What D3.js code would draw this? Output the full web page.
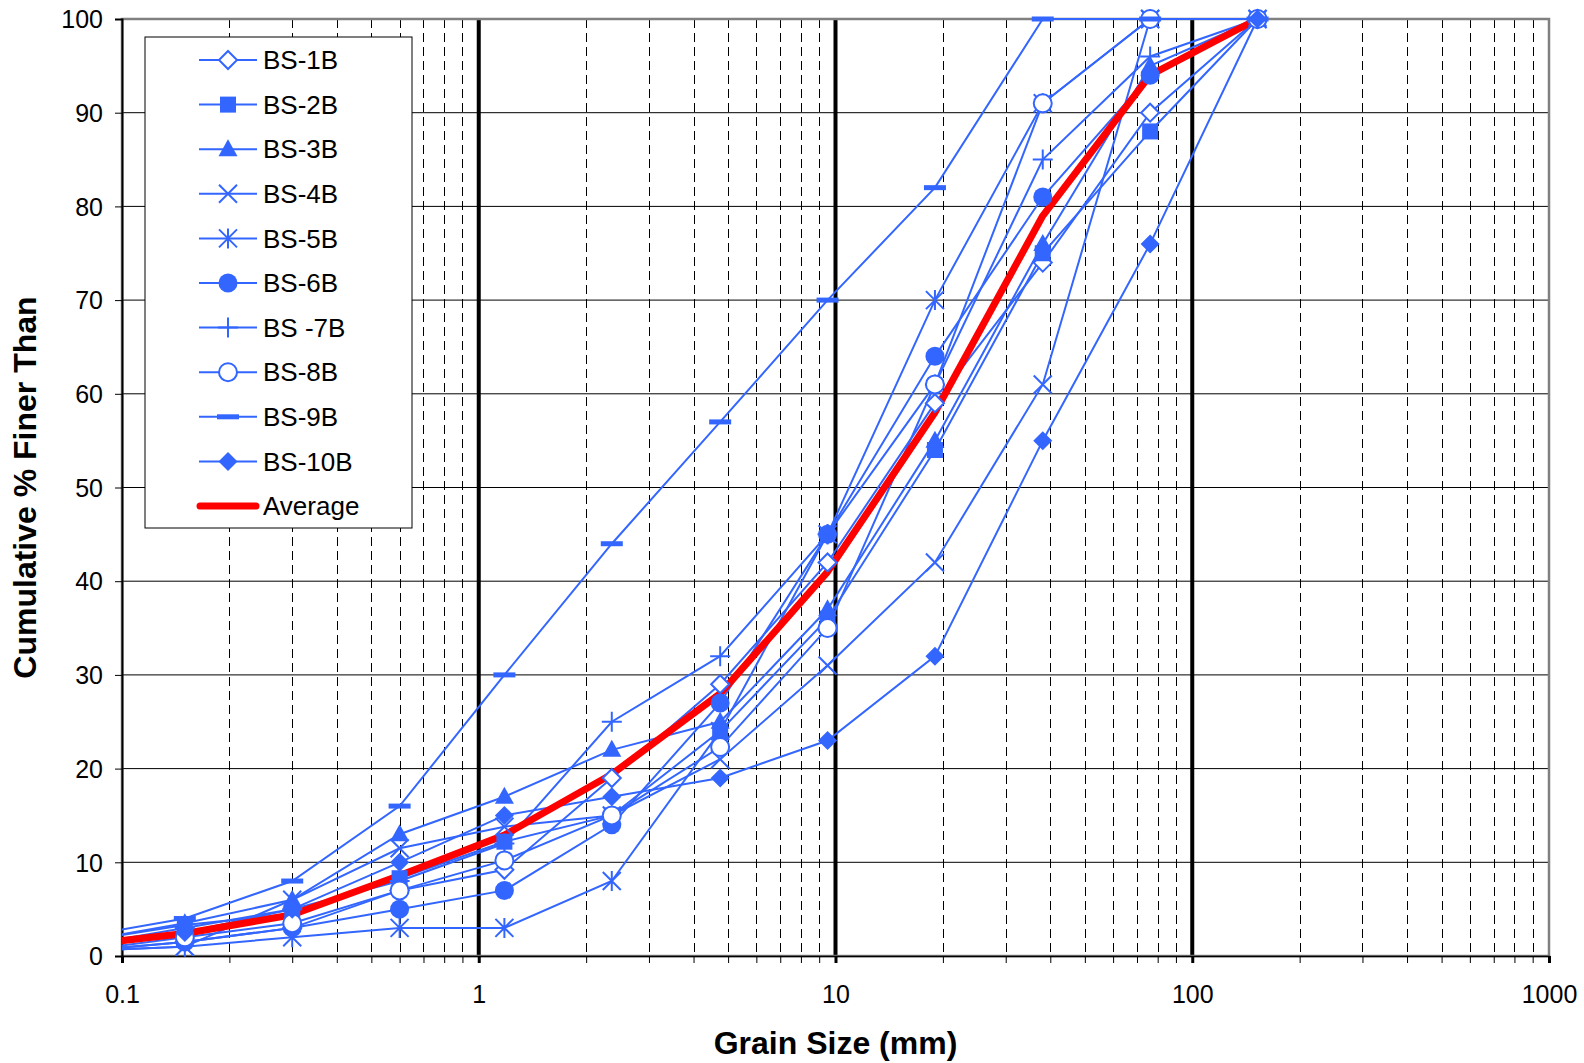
<!DOCTYPE html>
<html>
<head>
<meta charset="utf-8">
<script src="https://cdn.jsdelivr.net/npm/d3@7"></script>
<style>
  html, body { margin: 0; padding: 0; background: #fff; }
  svg { display: block; font-family: "Liberation Sans", Arial, sans-serif; }
</style>
</head>
<body>
<svg id="chart" width="1584" height="1063"></svg>
<script>
// Sieve openings (mm) and cumulative % passing for each boring sample
const sieveSizes = [0.075, 0.15, 0.3, 0.6, 1.18, 2.36, 4.75, 9.5, 19, 38.1, 76.2, 152.4];

const bs1B  = [0.5, 1.5, 3, 7, 9.2, 19, 29, 42, 59, 74, 90, 100];
const bs2B  = [1.5, 3.3, 4.5, 8.3, 12.2, 15, 24, 36, 54, 75, 88, 100];
const bs3B  = [1.5, 3.5, 6, 13, 17, 22, 25, 37, 55, 76, 95, 100];
const bs4B  = [0.5, 1, 6, 11.5, 13.8, 15, 21, 31, 42, 61, 100, 100];
const bs5B  = [0.5, 1, 2, 3, 3, 8, 24, 45, 70, 91, 100, 100];
const bs6B  = [0.5, 1.5, 3, 5, 7, 14, 27, 45, 64, 81, 94, 100];
const bs7B  = [1, 3, 5, 8, 12, 25, 32, 45, 61, 85, 96, 100];
const bs8B  = [0.5, 2, 3.5, 7, 10.2, 15, 22.3, 35, 61, 91, 100, 100];
const bs9B  = [2, 4, 8, 16, 30, 44, 57, 70, 82, 100, 100, 100];
const bs10B = [1, 2.5, 5, 10, 15, 17, 19, 23, 32, 55, 76, 100];
const average = [1.1, 2.4, 4.4, 8.6, 12.9, 19.4, 28, 41, 58, 79, 94, 100];

const sampleNames = ["BS-1B", "BS-2B", "BS-3B", "BS-4B", "BS-5B", "BS-6B", "BS -7B", "BS-8B", "BS-9B", "BS-10B"];
const sampleValues = [bs1B, bs2B, bs3B, bs4B, bs5B, bs6B, bs7B, bs8B, bs9B, bs10B];
const markerKinds = ["diamondOpen", "square", "triangle", "times", "asterisk", "circle", "plus", "circleOpen", "dash", "diamond"];

const xTickLabels = [0.1, 1, 10, 100, 1000];
const yTickValues = [0, 10, 20, 30, 40, 50, 60, 70, 80, 90, 100];

const BLUE = "#3366FF";
const RED = "#FF0000";

const svg = d3.select("#chart");
const plotLeft = 122, plotRight = 1549, plotTop = 19, plotBottom = 956;

const x = d3.scaleLog().domain([0.1, 1000]).range([plotLeft, plotRight]);
const y = d3.scaleLinear().domain([0, 100]).range([plotBottom, plotTop]);

// clip region for plotted data
svg.append("defs").append("clipPath").attr("id", "plotClip")
  .append("rect").attr("x", plotLeft).attr("y", 0).attr("width", plotRight - plotLeft).attr("height", 1063);

// horizontal gridlines
const grid = svg.append("g");
grid.selectAll("line.h").data(yTickValues.filter(v => v > 0 && v < 100)).join("line")
  .attr("x1", plotLeft).attr("x2", plotRight)
  .attr("y1", d => y(d)).attr("y2", d => y(d))
  .attr("stroke", "#000").attr("stroke-width", 1);

// vertical gridlines: dashed minors, heavy decades
const allTicks = x.ticks();
const isDecade = v => Math.abs(Math.log10(v) - Math.round(Math.log10(v))) < 1e-9;
const minorTicks = allTicks.filter(v => !isDecade(v));
const innerDecades = allTicks.filter(v => isDecade(v) && v > 0.1 && v < 1000);

grid.selectAll("line.minor").data(minorTicks).join("line")
  .attr("x1", d => Math.round(x(d)) + 0.5).attr("x2", d => Math.round(x(d)) + 0.5)
  .attr("y1", plotTop).attr("y2", plotBottom)
  .attr("stroke", "#000").attr("stroke-width", 1).attr("stroke-dasharray", "9,5");

grid.selectAll("line.major").data(innerDecades).join("line")
  .attr("x1", d => x(d)).attr("x2", d => x(d))
  .attr("y1", plotTop).attr("y2", plotBottom)
  .attr("stroke", "#000").attr("stroke-width", 4);

// plot frame
svg.append("rect").attr("x", plotLeft).attr("y", plotTop).attr("width", plotRight - plotLeft).attr("height", plotBottom - plotTop)
  .attr("fill", "none").attr("stroke", "#808080").attr("stroke-width", 2.5);

// x axis
const xAxis = d3.axisBottom(x).tickValues(allTicks).tickSize(7)
  .tickFormat(d => xTickLabels.includes(d) ? String(d) : "");
const gx = svg.append("g").attr("transform", `translate(0,${plotBottom})`).call(xAxis);
gx.select(".domain").attr("stroke", "#000").attr("stroke-width", 1.5);
gx.selectAll(".tick line").attr("stroke", "#000")
  .attr("stroke-width", d => isDecade(d) ? 3 : 1);
gx.selectAll(".tick text").attr("font-size", 25).attr("fill", "#000")
  .attr("y", 29).attr("dy", "0.71em");

// y axis
const yAxis = d3.axisLeft(y).tickValues(yTickValues).tickSize(7).tickFormat(d3.format("d"));
const gy = svg.append("g").attr("transform", `translate(${plotLeft},0)`).call(yAxis);
gy.select(".domain").attr("stroke", "#000").attr("stroke-width", 2);
gy.selectAll(".tick line").attr("stroke", "#000").attr("stroke-width", 1);
gy.selectAll(".tick text").attr("font-size", 25).attr("fill", "#000").attr("x", -19).attr("dy", "0.35em");

// axis titles
svg.append("text").attr("x", (plotLeft + plotRight) / 2).attr("y", 1054)
  .attr("text-anchor", "middle").attr("font-size", 32).attr("font-weight", "bold")
  .text("Grain Size (mm)");
svg.append("text").attr("transform", `translate(36,${(plotTop + plotBottom) / 2}) rotate(-90)`)
  .attr("text-anchor", "middle").attr("font-size", 32).attr("font-weight", "bold")
  .text("Cumulative % Finer Than");

// marker drawing
function drawMarker(g, kind) {
  switch (kind) {
    case "diamondOpen":
      g.append("path").attr("d", "M0,-9L9,0L0,9L-9,0Z").attr("fill", "#fff").attr("stroke", BLUE).attr("stroke-width", 2); break;
    case "diamond":
      g.append("path").attr("d", "M0,-9.5L9.5,0L0,9.5L-9.5,0Z").attr("fill", BLUE); break;
    case "square":
      g.append("rect").attr("x", -8).attr("y", -8).attr("width", 16).attr("height", 16).attr("fill", BLUE); break;
    case "triangle":
      g.append("path").attr("d", "M0,-10L9.5,7L-9.5,7Z").attr("fill", BLUE); break;
    case "times":
      g.append("path").attr("d", "M-9,-9L9,9M-9,9L9,-9").attr("stroke", BLUE).attr("stroke-width", 2).attr("fill", "none"); break;
    case "asterisk":
      g.append("path").attr("d", "M-9,-9L9,9M-9,9L9,-9M0,-10L0,10").attr("stroke", BLUE).attr("stroke-width", 2).attr("fill", "none"); break;
    case "circle":
      g.append("circle").attr("r", 9.5).attr("fill", BLUE); break;
    case "circleOpen":
      g.append("circle").attr("r", 9).attr("fill", "#fff").attr("stroke", BLUE).attr("stroke-width", 2); break;
    case "plus":
      g.append("path").attr("d", "M-10,0L10,0M0,-10L0,10").attr("stroke", BLUE).attr("stroke-width", 2).attr("fill", "none"); break;
    case "dash":
      g.append("rect").attr("x", -11).attr("y", -2.5).attr("width", 22).attr("height", 5).attr("fill", BLUE); break;
  }
}

const line = d3.line().x(d => x(d[0])).y(d => y(d[1]));
const dataLayer = svg.append("g").attr("clip-path", "url(#plotClip)");

// all series lines first, average on top of them
sampleValues.forEach(vals => {
  dataLayer.append("path").datum(sieveSizes.map((s, i) => [s, vals[i]]))
    .attr("d", line).attr("fill", "none").attr("stroke", BLUE).attr("stroke-width", 2);
});
dataLayer.append("path").datum(sieveSizes.map((s, i) => [s, average[i]]))
  .attr("d", line).attr("fill", "none").attr("stroke", RED).attr("stroke-width", 7)
  .attr("stroke-linejoin", "round");

// markers above the lines
sampleValues.forEach((vals, k) => {
  sieveSizes.forEach((s, i) => {
    if (s < 0.1) return;
    const g = dataLayer.append("g").attr("transform", `translate(${x(s)},${y(vals[i])})`);
    drawMarker(g, markerKinds[k]);
  });
});

// legend
const legend = svg.append("g");
legend.append("rect").attr("x", 145).attr("y", 37).attr("width", 267).attr("height", 491)
  .attr("fill", "#fff").attr("stroke", "#000").attr("stroke-width", 1);
const rowY = i => 60 + i * 44.6;
sampleNames.forEach((name, i) => {
  const cy = rowY(i);
  legend.append("line").attr("x1", 199).attr("x2", 257).attr("y1", cy).attr("y2", cy)
    .attr("stroke", BLUE).attr("stroke-width", 2);
  drawMarker(legend.append("g").attr("transform", `translate(228,${cy})`), markerKinds[i]);
  legend.append("text").attr("x", 263).attr("y", cy).attr("dy", "0.35em")
    .attr("font-size", 26).text(name);
});
{
  const cy = rowY(10);
  legend.append("line").attr("x1", 200).attr("x2", 256).attr("y1", cy).attr("y2", cy)
    .attr("stroke", RED).attr("stroke-width", 7).attr("stroke-linecap", "round");
  legend.append("text").attr("x", 263).attr("y", cy).attr("dy", "0.35em")
    .attr("font-size", 26).text("Average");
}
</script>
</body>
</html>
